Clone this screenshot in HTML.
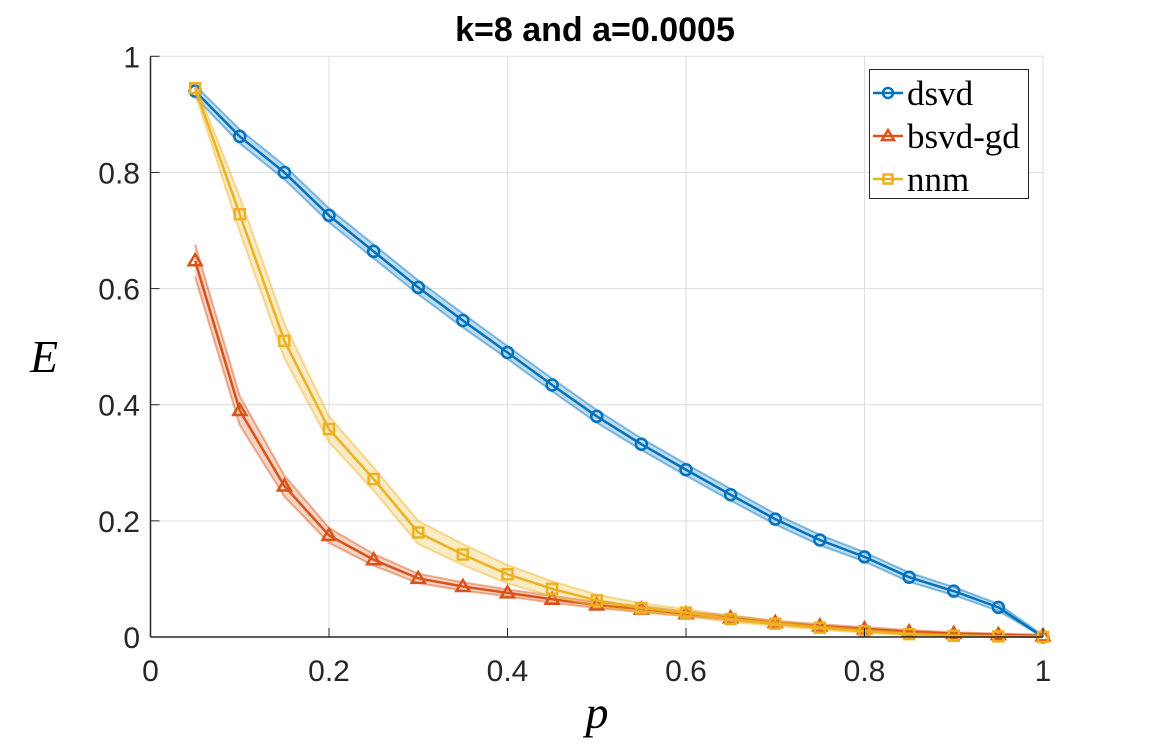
<!DOCTYPE html>
<html><head><meta charset="utf-8">
<style>
html,body{margin:0;padding:0;background:#fff;}
svg text{font-family:"Liberation Sans",sans-serif;}
</style></head>
<body>
<svg id="chart" width="1152" height="747" viewBox="0 0 1152 747" xmlns="http://www.w3.org/2000/svg">
<rect width="1152" height="747" fill="#fff"/>
<g id="grid"></g>
<g id="series"></g>
<g id="axes"></g>
<text x="595" y="41" text-anchor="middle" font-size="34" font-weight="bold">k=8 and a=0.0005</text>
<text x="44" y="372" text-anchor="middle" font-size="46" font-style="italic" style="font-family:'Liberation Serif',serif">E</text>
<text x="597" y="728" text-anchor="middle" font-size="46" font-style="italic" style="font-family:'Liberation Serif',serif">p</text>
<g>
<rect x="869.5" y="69.5" width="159" height="129" fill="#fff" stroke="#262626" stroke-width="1"/>
<g>
<line x1="873" y1="93" x2="903" y2="93" stroke="#0072BD" stroke-width="2.5"/>
<circle cx="888" cy="93" r="5" fill="none" stroke="#0072BD" stroke-width="2.5"/>
<text x="907" y="105" font-size="35" style="font-family:'Liberation Serif',serif">dsvd</text></g>
<g>
<line x1="873" y1="136" x2="903" y2="136" stroke="#D95319" stroke-width="2.5"/>
<path d="M888 130 L894 140 L882 140 Z" fill="none" stroke="#D95319" stroke-width="2.5"/>
<text x="907" y="148" font-size="35" style="font-family:'Liberation Serif',serif">bsvd-gd</text></g>
<g>
<line x1="873" y1="179" x2="903" y2="179" stroke="#EDB120" stroke-width="2.5"/>
<rect x="883.5" y="174.5" width="9" height="9" fill="none" stroke="#EDB120" stroke-width="2.5"/>
<text x="907" y="191" font-size="35" style="font-family:'Liberation Serif',serif">nnm</text></g>
</g>
</svg>
<script>
const pValues=[0.05,0.1,0.15,0.2,0.25,0.3,0.35,0.4,0.45,0.5,0.55,0.6,0.65,0.7,0.75,0.8,0.85,0.9,0.95,1.0];
const dsvd=[0.94,0.862,0.8,0.726,0.664,0.602,0.545,0.49,0.434,0.38,0.332,0.288,0.245,0.203,0.167,0.138,0.103,0.079,0.051,0.0];
const bsvd=[0.648,0.39,0.26,0.175,0.133,0.101,0.087,0.076,0.065,0.055,0.048,0.04,0.033,0.025,0.019,0.014,0.009,0.006,0.004,0.002];
const nnm=[0.945,0.728,0.51,0.358,0.272,0.18,0.142,0.108,0.083,0.063,0.05,0.042,0.031,0.023,0.016,0.01,0.005,0.002,0.001,0.0];
const dsvdBand=[0.01,0.012,0.012,0.012,0.012,0.012,0.012,0.011,0.011,0.011,0.01,0.01,0.01,0.009,0.009,0.008,0.008,0.007,0.006,0.003];
const bsvdBand=[0.028,0.025,0.018,0.013,0.01,0.008,0.007,0.006,0.006,0.005,0.005,0.004,0.004,0.003,0.003,0.003,0.003,0.002,0.002,0.002];
const nnmBand=[0.008,0.03,0.03,0.022,0.02,0.02,0.018,0.016,0.013,0.01,0.008,0.006,0.005,0.004,0.003,0.003,0.002,0.002,0.001,0.001];
const xTicks=[0,0.2,0.4,0.6,0.8,1];
const xTickLabels=["0","0.2","0.4","0.6","0.8","1"];
const yTicks=[0,0.2,0.4,0.6,0.8,1];
const yTickLabels=["0","0.2","0.4","0.6","0.8","1"];

const L=150.5,R=1043,T=56.3,B=637;
const X=v=>L+v*(R-L);
const Y=v=>B-v*(B-T);
const NS="http://www.w3.org/2000/svg";
function mk(tag,attrs,parent){const e=document.createElementNS(NS,tag);for(const k in attrs)e.setAttribute(k,attrs[k]);parent.appendChild(e);return e;}
const grid=document.getElementById('grid'),axes=document.getElementById('axes'),ser=document.getElementById('series');
xTicks.forEach((t,i)=>{
  const g=mk('line',{x1:X(t),x2:X(t),y1:T,y2:B,stroke:'#dedede','stroke-width':1},grid);
  
  
  mk('line',{x1:X(t),x2:X(t),y1:B,y2:B-9,stroke:'#262626','stroke-width':1},axes);
  const tx=mk('text',{x:X(t),y:681,'text-anchor':'middle','font-size':30,fill:'#262626'},axes);
  tx.textContent=xTickLabels[i];
  
  
});
yTicks.forEach((t,i)=>{
  const g=mk('line',{x1:L,x2:R,y1:Y(t),y2:Y(t),stroke:'#dedede','stroke-width':1},grid);
  
  
  mk('line',{x1:L,x2:L+9,y1:Y(t),y2:Y(t),stroke:'#262626','stroke-width':1},axes);
  const tx=mk('text',{x:140,y:Y(t)+11,'text-anchor':'end','font-size':30,fill:'#262626'},axes);
  tx.textContent=yTickLabels[i];
  
  
});
mk('line',{x1:L,x2:L,y1:T,y2:B,stroke:'#262626','stroke-width':1.5},axes);
mk('line',{x1:L,x2:R,y1:B,y2:B,stroke:'#262626','stroke-width':1.5},axes);

function drawSeries(name,vals,band,color,bandColor,marker){
  const g=mk('g',{},ser);
  
  
  const up=pValues.map((p,i)=>X(p)+','+Y(vals[i]+band[i]));
  const lo=pValues.map((p,i)=>X(p)+','+Y(Math.max(0,vals[i]-band[i]))).reverse();
  const poly=mk('polygon',{points:up.concat(lo).join(' '),fill:bandColor,'fill-opacity':0.25},g);
  
  
  mk('polyline',{points:up.join(' '),fill:'none',stroke:bandColor,'stroke-opacity':0.45,'stroke-width':2},g);
  mk('polyline',{points:lo.join(' '),fill:'none',stroke:bandColor,'stroke-opacity':0.45,'stroke-width':2},g);
  const ln=mk('polyline',{points:pValues.map((p,i)=>X(p)+','+Y(vals[i])).join(' '),fill:'none',stroke:color,'stroke-width':2.5},g);
  
  
  pValues.forEach((p,i)=>{
    const cx=X(p),cy=Y(vals[i]);let m;
    if(marker==='o')m=mk('circle',{cx:cx,cy:cy,r:5.5,fill:'none',stroke:color,'stroke-width':2.5},g);
    else if(marker==='^')m=mk('path',{d:`M${cx} ${cy-6.5} L${cx+6.5} ${cy+4.5} L${cx-6.5} ${cy+4.5} Z`,fill:'none',stroke:color,'stroke-width':2.5},g);
    else m=mk('rect',{x:cx-5,y:cy-5,width:10,height:10,fill:'none',stroke:color,'stroke-width':2.5},g);
    
    
  });
}
drawSeries('dsvd',dsvd,dsvdBand,'#0072BD','#0072BD','o');
drawSeries('bsvd-gd',bsvd,bsvdBand,'#D95319','#D95319','^');
drawSeries('nnm',nnm,nnmBand,'#EDB120','#EDB120','s');
</script>
</body></html>
